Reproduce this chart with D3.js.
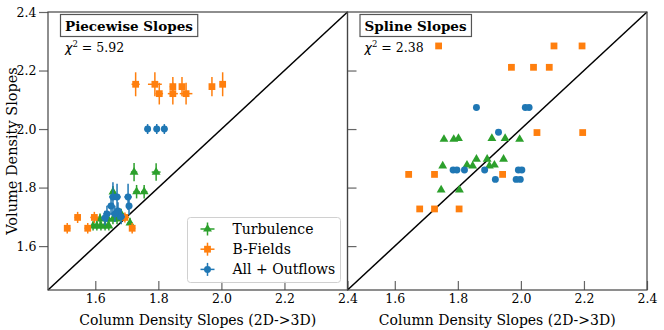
<!DOCTYPE html>
<html>
<head>
<meta charset="utf-8">
<script src="https://cdn.jsdelivr.net/npm/d3@7"></script>
<style>
  body { margin: 0; background: #fff; }
  svg { display: block; }
  text { font-family: "DejaVu Serif", serif; }
</style>
</head>
<body>
<svg id="chart" width="664" height="330"></svg>
<script>
// ---------------- data ----------------
const axisDomain = [1.45, 2.4];
const tickValues = [1.6, 1.8, 2.0, 2.2, 2.4];
const tickLabels = ["1.6", "1.8", "2.0", "2.2", "2.4"];
const panelTitles = ["Piecewise Slopes", "Spline Slopes"];
const chiValues = ["5.92", "2.38"];
const seriesNames = ["Turbulence", "B-Fields", "All + Outflows"];
const seriesColors = ["#2ca02c", "#ff7f0e", "#1f77b4"];
const seriesShapes = ["triangle", "square", "circle"];

// piecewise: [x, y, xerr, yerr]
const pwTurbulence = [
  [1.723, 1.853, 0.010, 0.031], [1.793, 1.853, 0.014, 0.030],
  [1.731, 1.786, 0.010, 0.023], [1.755, 1.786, 0.010, 0.023],
  [1.656, 1.785, 0.008, 0.020],
  [1.593, 1.669, 0.008, 0.016], [1.605, 1.669, 0.008, 0.016],
  [1.618, 1.669, 0.008, 0.016], [1.631, 1.669, 0.008, 0.016],
  [1.643, 1.669, 0.008, 0.016],
  [1.615, 1.693, 0.008, 0.018], [1.640, 1.693, 0.008, 0.018],
  [1.656, 1.693, 0.008, 0.018], [1.669, 1.693, 0.008, 0.018],
  [1.710, 1.679, 0.008, 0.018], [1.682, 1.710, 0.008, 0.018]
];
const pwBFields = [
  [1.728, 2.153, 0.013, 0.041], [1.789, 2.153, 0.022, 0.041],
  [1.803, 2.121, 0.012, 0.037], [1.846, 2.145, 0.010, 0.033],
  [1.846, 2.121, 0.016, 0.037], [1.875, 2.145, 0.009, 0.033],
  [1.888, 2.121, 0.020, 0.037], [1.970, 2.145, 0.009, 0.033],
  [2.004, 2.153, 0.009, 0.041],
  [1.511, 1.661, 0.010, 0.018], [1.544, 1.698, 0.010, 0.019],
  [1.576, 1.661, 0.010, 0.018], [1.597, 1.698, 0.013, 0.019],
  [1.694, 1.698, 0.013, 0.017], [1.717, 1.661, 0.010, 0.018]
];
const pwOutflows = [
  [1.766, 2.000, 0.010, 0.017], [1.795, 2.000, 0.010, 0.017],
  [1.819, 2.000, 0.010, 0.017],
  [1.656, 1.768, 0.012, 0.050], [1.669, 1.768, 0.012, 0.045],
  [1.704, 1.768, 0.012, 0.045], [1.707, 1.737, 0.010, 0.030],
  [1.650, 1.737, 0.012, 0.030], [1.672, 1.720, 0.012, 0.030],
  [1.637, 1.710, 0.012, 0.028], [1.662, 1.710, 0.012, 0.028],
  [1.631, 1.696, 0.012, 0.025], [1.682, 1.700, 0.012, 0.025]
];

// spline: [x, y]
const spTurbulence = [
  [1.756, 1.965], [1.787, 1.965], [1.802, 1.968], [1.908, 1.968],
  [1.950, 1.968], [1.996, 1.965], [1.752, 1.874], [1.829, 1.877],
  [1.847, 1.874], [1.859, 1.897], [1.893, 1.897], [1.900, 1.874],
  [1.916, 1.877], [1.945, 1.897], [1.747, 1.792], [1.805, 1.792]
];
const spBFields = [
  [1.739, 2.284], [2.105, 2.284], [2.194, 2.284],
  [1.970, 2.211], [2.040, 2.211], [2.090, 2.211],
  [2.051, 1.988], [2.196, 1.988],
  [1.644, 1.845], [1.726, 1.845], [1.942, 1.845],
  [1.679, 1.727], [1.726, 1.727], [1.804, 1.727]
];
const spOutflows = [
  [1.859, 2.074], [2.014, 2.074], [2.026, 2.074], [1.929, 1.989],
  [1.785, 1.860], [1.797, 1.860], [1.821, 1.860], [1.885, 1.860],
  [1.992, 1.860], [2.003, 1.860],
  [1.919, 1.828], [1.985, 1.828], [1.998, 1.828]
];

// ---------------- drawing ----------------
const svg = d3.select("#chart");
const plotTop = 12, plotBottom = 290;
const panels = [
  { x0: 48, x1: 347.5, series: [pwTurbulence, pwBFields, pwOutflows], err: true },
  { x0: 347.5, x1: 647, series: [spTurbulence, spBFields, spOutflows], err: false }
];
const yScale = d3.scaleLinear().domain(axisDomain).range([plotBottom, plotTop]);

function symbolFor(shape, size) {
  const t = shape === "triangle" ? d3.symbolTriangle : shape === "square" ? d3.symbolSquare : d3.symbolCircle;
  return d3.symbol().type(t).size(size)();
}
const symSize = { triangle: 34, square: 46, circle: 38 };
const tickFont = 12.5;

panels.forEach((p, pi) => {
  const xScale = d3.scaleLinear().domain(axisDomain).range([p.x0, p.x1]);
  const g = svg.append("g");

  // diagonal 1:1 line
  g.append("line")
    .attr("x1", xScale(axisDomain[0])).attr("y1", yScale(axisDomain[0]))
    .attr("x2", xScale(axisDomain[1])).attr("y2", yScale(axisDomain[1]))
    .attr("stroke", "#000").attr("stroke-width", 1.5);

  // series
  p.series.forEach((data, si) => {
    const col = seriesColors[si];
    const sg = g.append("g");
    if (p.err) {
      sg.selectAll("line.v").data(data).join("line").attr("class", "v")
        .attr("x1", d => xScale(d[0])).attr("x2", d => xScale(d[0]))
        .attr("y1", d => yScale(d[1] - d[3])).attr("y2", d => yScale(d[1] + d[3]))
        .attr("stroke", col).attr("stroke-width", 1.5);
      sg.selectAll("line.h").data(data).join("line").attr("class", "h")
        .attr("y1", d => yScale(d[1])).attr("y2", d => yScale(d[1]))
        .attr("x1", d => xScale(d[0] - d[2])).attr("x2", d => xScale(d[0] + d[2]))
        .attr("stroke", col).attr("stroke-width", 1.5);
    }
    sg.selectAll("path.m").data(data).join("path").attr("class", "m")
      .attr("transform", d => `translate(${xScale(d[0])},${yScale(d[1])})`)
      .attr("d", symbolFor(seriesShapes[si], symSize[seriesShapes[si]]))
      .attr("fill", col);
  });

  // x axis (ticks inward)
  const xAxis = d3.axisBottom(xScale).tickValues(tickValues)
    .tickFormat((d, i) => tickLabels[i]).tickSize(-9).tickPadding(4.5);
  const xg = svg.append("g").attr("transform", `translate(0,${plotBottom})`).call(xAxis);
  xg.attr("font-family", null).attr("font-size", null);
  xg.select(".domain").remove();
  xg.selectAll(".tick line").attr("stroke", "#666").attr("stroke-width", 1.2);
  xg.selectAll(".tick text").attr("font-size", tickFont).attr("fill", "#000");

  // y axis
  if (pi === 0) {
    const yAxis = d3.axisLeft(yScale).tickValues(tickValues)
      .tickFormat((d, i) => tickLabels[i]).tickSize(9).tickPadding(2.5);
    const yg = svg.append("g").attr("transform", `translate(${p.x0},0)`).call(yAxis);
    yg.attr("font-family", null).attr("font-size", null);
    yg.select(".domain").remove();
    yg.selectAll(".tick line").attr("stroke", "#666").attr("stroke-width", 1.2);
    yg.selectAll(".tick text").attr("font-size", tickFont).attr("fill", "#000");
  } else {
    const yAxis = d3.axisLeft(yScale).tickValues(tickValues.slice(0, 4))
      .tickFormat("").tickSize(-9);
    const yg = svg.append("g").attr("transform", `translate(${p.x0},0)`).call(yAxis);
    yg.select(".domain").remove();
    yg.selectAll(".tick line").attr("stroke", "#666").attr("stroke-width", 1.2);
  }

  // frame
  svg.append("rect")
    .attr("x", p.x0).attr("y", plotTop).attr("width", p.x1 - p.x0).attr("height", plotBottom - plotTop)
    .attr("fill", "none").attr("stroke", "#444").attr("stroke-width", 1.2);

  // title box
  const tg = svg.append("g");
  const tt = tg.append("text")
    .attr("x", p.x0 + 17).attr("y", 30.5)
    .attr("font-size", 13.5).attr("font-weight", "bold").attr("fill", "#000")
    .text(panelTitles[pi]);
  const bb = tt.node().getBBox();
  tg.insert("rect", "text")
    .attr("x", bb.x - 4.5).attr("y", 14.5).attr("width", bb.width + 9).attr("height", 22)
    .attr("fill", "#fff").attr("stroke", "#555").attr("stroke-width", 1.2);

  // chi^2
  const ct = svg.append("text").attr("x", p.x0 + 17).attr("y", 52)
    .attr("font-size", 12.5).attr("fill", "#000");
  ct.append("tspan").attr("font-style", "italic").attr("font-family", "DejaVu Sans").text("χ");
  ct.append("tspan").attr("font-size", 8.5).attr("dy", -5).text("2");
  ct.append("tspan").attr("dy", 5).text(" = " + chiValues[pi]);

  // x label
  svg.append("text").attr("x", (p.x0 + p.x1) / 2).attr("y", 325)
    .attr("text-anchor", "middle").attr("font-size", 14).attr("fill", "#000")
    .text("Column Density Slopes (2D->3D)");
});

// y label
svg.append("text")
  .attr("transform", `translate(16.5,${(plotTop + plotBottom) / 2}) rotate(-90)`)
  .attr("text-anchor", "middle").attr("font-size", 14.5).attr("fill", "#000")
  .text("Volume Density Slopes");

// legend
const lg = svg.append("g");
lg.append("rect").attr("x", 187.5).attr("y", 217.5).attr("width", 153).attr("height", 65)
  .attr("rx", 3).attr("fill", "#fff").attr("fill-opacity", 0.85)
  .attr("stroke", "#d0d0d0").attr("stroke-width", 1);
seriesNames.forEach((name, i) => {
  const cy = 229 + i * 20.2, cx = 207.5;
  const col = seriesColors[i];
  lg.append("line").attr("x1", cx - 7).attr("x2", cx + 7).attr("y1", cy).attr("y2", cy)
    .attr("stroke", col).attr("stroke-width", 1.5);
  lg.append("line").attr("x1", cx).attr("x2", cx).attr("y1", cy - 6.5).attr("y2", cy + 6.5)
    .attr("stroke", col).attr("stroke-width", 1.5);
  lg.append("path").attr("transform", `translate(${cx},${cy})`)
    .attr("d", symbolFor(seriesShapes[i], symSize[seriesShapes[i]])).attr("fill", col);
  lg.append("text").attr("x", 232.5).attr("y", cy + 5).attr("font-size", 14).attr("fill", "#000")
    .text(name);
});
</script>
</body>
</html>
